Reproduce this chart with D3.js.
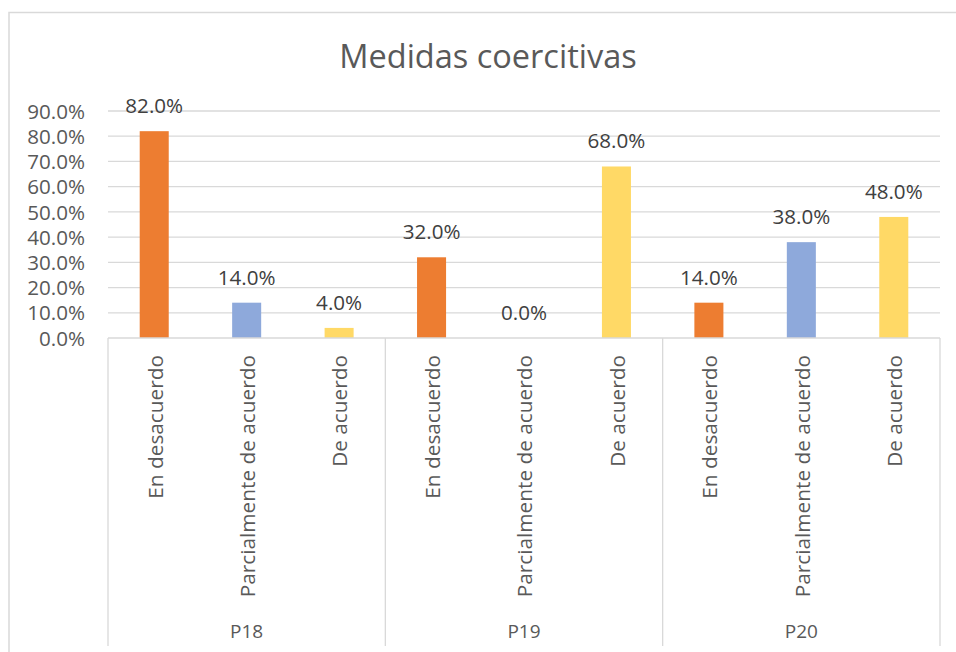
<!DOCTYPE html>
<html>
<head>
<meta charset="utf-8">
<script src="https://cdn.jsdelivr.net/npm/d3@7"></script>
<style>
  body { margin: 0; background: #fff; }
  svg text { font-family: "Open Sans", sans-serif; }
</style>
</head>
<body>
<div id="chart"></div>
<script>
// data
const groups = ["P18", "P19", "P20"];
const categories = ["En desacuerdo", "Parcialmente de acuerdo", "De acuerdo"];
const valuesP18 = [0.82, 0.14, 0.04];
const valuesP19 = [0.32, 0.00, 0.68];
const valuesP20 = [0.14, 0.38, 0.48];
const yTicks = [0, 0.1, 0.2, 0.3, 0.4, 0.5, 0.6, 0.7, 0.8, 0.9];
const colors = ["#ED7D31", "#8EA9DB", "#FFD966"];

const seriesByGroup = [valuesP18, valuesP19, valuesP20];
const rows = [];
groups.forEach((g, gi) => {
    categories.forEach((c, ci) => {
        rows.push({ group: g, cat: c, ci: ci, value: seriesByGroup[gi][ci] });
    });
});

const W = 956, H = 652;
const plotLeft = 108, plotRight = 940, plotTop = 111, base = 338, axisBottom = 646;

const svg = d3.select("#chart").append("svg")
    .attr("width", W).attr("height", H);

// outer chart border (runs off the right / bottom edge like the screenshot)
svg.append("rect")
    .attr("x", 9).attr("y", 12.5)
    .attr("width", W + 20).attr("height", H + 20)
    .attr("fill", "#fff")
    .attr("stroke", "#D9D9D9").attr("stroke-width", 1.5);

const x0 = d3.scaleBand().domain(groups).range([plotLeft, plotRight]).padding(0);
const x1 = d3.scaleBand().domain(categories).range([0, x0.bandwidth()])
    .paddingInner(0.686).paddingOuter(0.343);
const xc = d3.scaleBand().domain(categories).range([0, x0.bandwidth()]).padding(0);
const y = d3.scaleLinear().domain([0, 0.9]).range([base, plotTop]);

// gridlines
svg.append("g")
    .selectAll("line")
    .data(yTicks.slice(1))
    .join("line")
    .attr("x1", plotLeft).attr("x2", plotRight)
    .attr("y1", d => y(d)).attr("y2", d => y(d))
    .attr("stroke", "#D9D9D9").attr("stroke-width", 1.3);

// y axis labels
const yAxis = svg.append("g")
    .attr("transform", `translate(${plotLeft},0)`)
    .call(d3.axisLeft(y).tickValues(yTicks).tickFormat(d3.format(".1%")).tickSize(0).tickPadding(23));
yAxis.select(".domain").remove();
yAxis.selectAll("text")
    .attr("font-size", 20.6)
    .attr("fill", "#595959")
    .attr("dy", "0.35em")
    .attr("font-family", "Open Sans, sans-serif");

// bars
svg.append("g")
    .selectAll("rect")
    .data(rows)
    .join("rect")
    .attr("x", d => x0(d.group) + x1(d.cat))
    .attr("y", d => y(d.value))
    .attr("width", x1.bandwidth())
    .attr("height", d => base - y(d.value))
    .attr("fill", d => colors[d.ci]);

// value labels
svg.append("g")
    .selectAll("text")
    .data(rows)
    .join("text")
    .attr("x", d => x0(d.group) + x1(d.cat) + x1.bandwidth() / 2)
    .attr("y", d => y(d.value) - 18)
    .attr("text-anchor", "middle")
    .attr("font-size", 20.6)
    .attr("fill", "#404040")
    .text(d => d3.format(".1%")(d.value));

// category axis: baseline + group dividers
const axisG = svg.append("g");
axisG.append("line")
    .attr("x1", plotLeft).attr("x2", plotRight)
    .attr("y1", base).attr("y2", base)
    .attr("stroke", "#D9D9D9").attr("stroke-width", 1.3);
const dividers = groups.map(g => x0(g)).concat([plotRight]);
axisG.selectAll("line.div")
    .data(dividers)
    .join("line")
    .attr("class", "div")
    .attr("x1", d => d).attr("x2", d => d)
    .attr("y1", base).attr("y2", axisBottom)
    .attr("stroke", "#D9D9D9").attr("stroke-width", 1.3);

// rotated category labels
svg.append("g")
    .selectAll("text")
    .data(rows)
    .join("text")
    .attr("transform", d => `translate(${x0(d.group) + xc(d.cat) + xc.bandwidth() / 2},355) rotate(-90)`)
    .attr("text-anchor", "end")
    .attr("dy", "0.4em")
    .attr("font-size", 20.8)
    .attr("fill", "#595959")
    .text(d => d.cat);

// group labels
svg.append("g")
    .selectAll("text")
    .data(groups)
    .join("text")
    .attr("x", d => x0(d) + x0.bandwidth() / 2)
    .attr("y", 638)
    .attr("text-anchor", "middle")
    .attr("font-size", 19)
    .attr("fill", "#595959")
    .text(d => d);

// title
svg.append("text")
    .attr("x", 488)
    .attr("y", 68)
    .attr("text-anchor", "middle")
    .attr("font-size", 32.5)
    .attr("fill", "#595959")
    .text("Medidas coercitivas");
</script>
</body>
</html>
